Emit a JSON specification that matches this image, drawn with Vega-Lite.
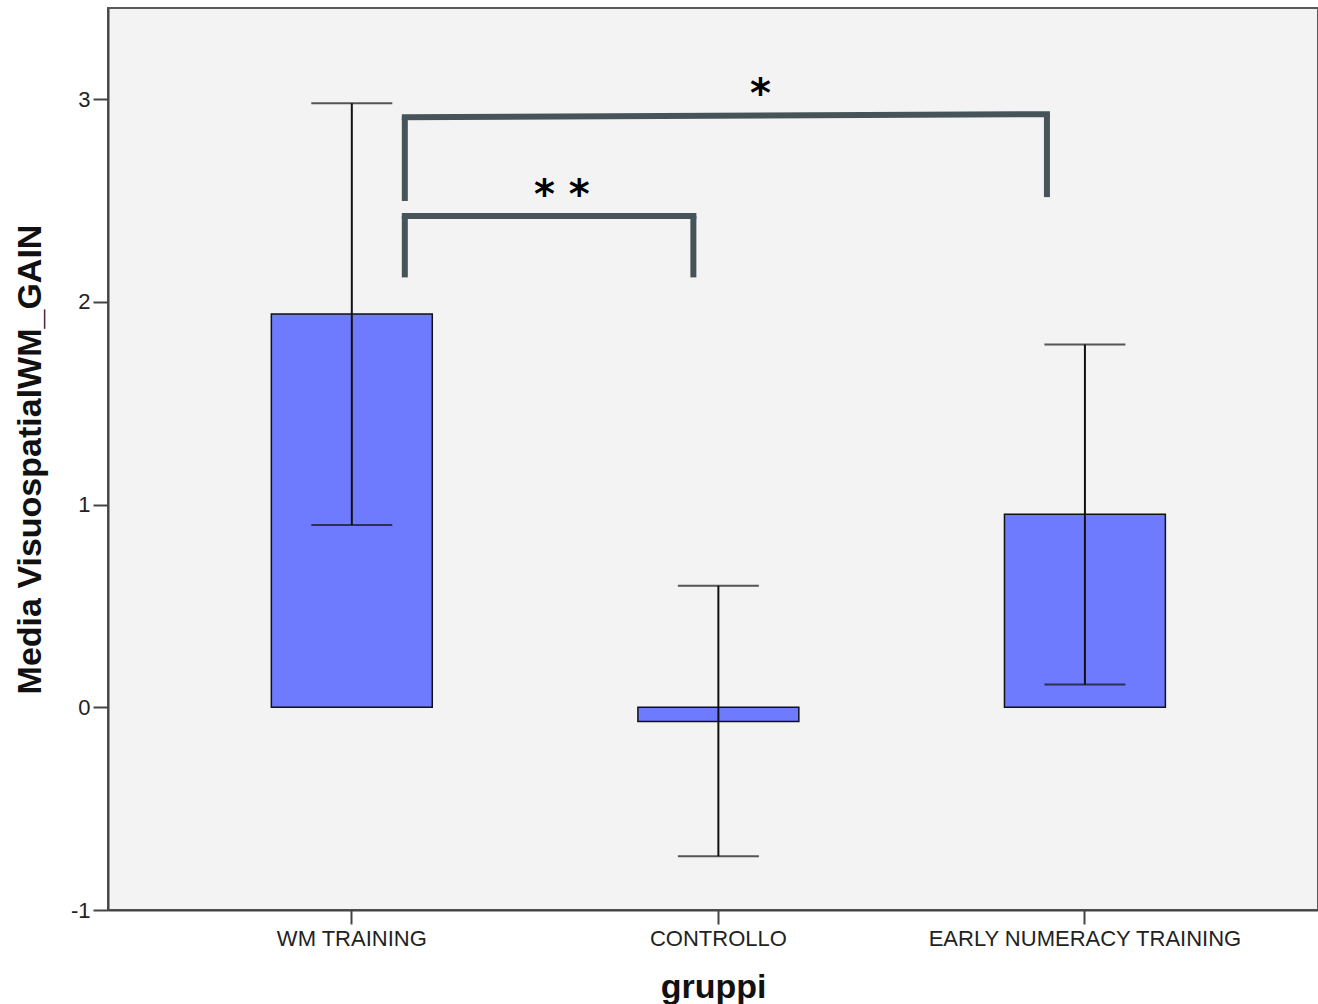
{
  "$schema": "https://vega.github.io/schema/vega-lite/v6.json",
  "width": 1210,
  "height": 902,
  "padding": {"left": 13, "top": 8, "right": 0, "bottom": 0},
  "background": "white",
  "config": {
    "view": {"fill": "#f3f3f3", "stroke": "#5a5a5a", "strokeWidth": 2},
    "axis": {
      "domainColor": "#444", "domainWidth": 2, "tickColor": "#444", "tickWidth": 2,
      "labelFont": "Liberation Sans", "labelFontSize": 22, "labelColor": "#222", "labelLimit": 0,
      "titleFont": "Liberation Sans", "titleFontSize": 34, "titleFontWeight": "bold", "titleColor": "#111",
      "grid": false
    }
  },
  "datasets": {
    "groups": [
      {"gruppo": "WM TRAINING", "media": 1.94, "lo": 0.90, "hi": 2.98},
      {"gruppo": "CONTROLLO", "media": -0.07, "lo": -0.735, "hi": 0.60},
      {"gruppo": "EARLY NUMERACY TRAINING", "media": 0.952, "lo": 0.113, "hi": 1.79}
    ]
  },
  "layer": [
    {
      "data": {"name": "groups"},
      "mark": {"type": "bar", "color": "#6e7bff", "stroke": "#111", "strokeWidth": 1.5},
      "encoding": {
        "x": {"field": "gruppo", "type": "nominal", "sort": null, "title": "gruppi",
          "scale": {"domain": ["WM TRAINING", "CONTROLLO", "EARLY NUMERACY TRAINING"], "paddingInner": 0.561, "paddingOuter": 0.431, "align": 0.517},
          "axis": {"labelAngle": 0, "tickSize": 14, "labelPadding": 4, "titlePadding": 21, "labelLimit": 0}},
        "y": {"field": "media", "type": "quantitative", "title": "Media VisuospatialWM_GAIN",
          "scale": {"domain": [-1, 3.45], "nice": false, "zero": false},
          "axis": {"values": [-1, 0, 1, 2, 3], "format": "d", "labelExpr": "replace(datum.label, '\u2212', '-')", "tickSize": 15, "labelPadding": 3, "titlePadding": 23}}
      }
    },
    {
      "data": {"name": "groups"},
      "mark": {"type": "rule", "color": "#111", "strokeWidth": 2},
      "encoding": {
        "x": {"field": "gruppo", "type": "nominal", "sort": null, "title": "gruppi"},
        "y": {"field": "lo", "type": "quantitative", "title": "Media VisuospatialWM_GAIN"},
        "y2": {"field": "hi"}
      }
    },
    {
      "data": {"name": "groups"},
      "transform": [{"fold": ["lo", "hi"], "as": ["k", "v"]}],
      "mark": {"type": "tick", "color": "#111", "size": 81, "thickness": 2},
      "encoding": {
        "x": {"field": "gruppo", "type": "nominal", "sort": null, "title": "gruppi"},
        "y": {"field": "v", "type": "quantitative", "title": "Media VisuospatialWM_GAIN"}
      }
    },
    {
      "data": {"values": [{"a": "WM TRAINING", "b": "EARLY NUMERACY TRAINING", "y": 2.911, "y2": 2.926}]},
      "mark": {"type": "rule", "color": "#46545a", "strokeWidth": 6, "strokeCap": "square", "xOffset": 53, "x2Offset": -38},
      "encoding": {
        "x": {"field": "a", "type": "nominal", "title": "gruppi"},
        "x2": {"field": "b"},
        "y": {"field": "y", "type": "quantitative", "title": "Media VisuospatialWM_GAIN"},
        "y2": {"field": "y2"}
      }
    },
    {
      "data": {"values": [{"a": "WM TRAINING", "b": "CONTROLLO", "y": 2.424, "y2": 2.424}]},
      "mark": {"type": "rule", "color": "#46545a", "strokeWidth": 6, "strokeCap": "square", "xOffset": 53, "x2Offset": -25},
      "encoding": {
        "x": {"field": "a", "type": "nominal", "title": "gruppi"},
        "x2": {"field": "b"},
        "y": {"field": "y", "type": "quantitative", "title": "Media VisuospatialWM_GAIN"},
        "y2": {"field": "y2"}
      }
    },
    {
      "data": {"values": [
        {"a": "WM TRAINING", "y": 2.498, "y2": 2.911},
        {"a": "WM TRAINING", "y": 2.121, "y2": 2.424}
      ]},
      "mark": {"type": "rule", "color": "#46545a", "strokeWidth": 6, "xOffset": 53},
      "encoding": {
        "x": {"field": "a", "type": "nominal", "title": "gruppi"},
        "y": {"field": "y", "type": "quantitative", "title": "Media VisuospatialWM_GAIN"},
        "y2": {"field": "y2"}
      }
    },
    {
      "data": {"values": [{"a": "EARLY NUMERACY TRAINING", "y": 2.517, "y2": 2.926}]},
      "mark": {"type": "rule", "color": "#46545a", "strokeWidth": 6, "xOffset": -38},
      "encoding": {
        "x": {"field": "a", "type": "nominal", "title": "gruppi"},
        "y": {"field": "y", "type": "quantitative", "title": "Media VisuospatialWM_GAIN"},
        "y2": {"field": "y2"}
      }
    },
    {
      "data": {"values": [{"a": "CONTROLLO", "y": 2.121, "y2": 2.424}]},
      "mark": {"type": "rule", "color": "#46545a", "strokeWidth": 6, "xOffset": -25},
      "encoding": {
        "x": {"field": "a", "type": "nominal", "title": "gruppi"},
        "y": {"field": "y", "type": "quantitative", "title": "Media VisuospatialWM_GAIN"},
        "y2": {"field": "y2"}
      }
    },
    {
      "data": {"values": [{"a": "CONTROLLO", "t": "*", "y": 2.96}]},
      "mark": {"type": "text", "font": "DejaVu Sans", "fontSize": 40, "fontWeight": "bold", "color": "#000", "baseline": "alphabetic", "xOffset": 42},
      "encoding": {
        "x": {"field": "a", "type": "nominal", "title": "gruppi"},
        "y": {"field": "y", "type": "quantitative", "title": "Media VisuospatialWM_GAIN"},
        "text": {"field": "t"}
      }
    },
    {
      "data": {"values": [{"a": "WM TRAINING", "t": "* *", "y": 2.462}]},
      "mark": {"type": "text", "font": "DejaVu Sans", "fontSize": 40, "fontWeight": "bold", "color": "#000", "baseline": "alphabetic", "xOffset": 210},
      "encoding": {
        "x": {"field": "a", "type": "nominal", "title": "gruppi"},
        "y": {"field": "y", "type": "quantitative", "title": "Media VisuospatialWM_GAIN"},
        "text": {"field": "t"}
      }
    }
  ]
}
